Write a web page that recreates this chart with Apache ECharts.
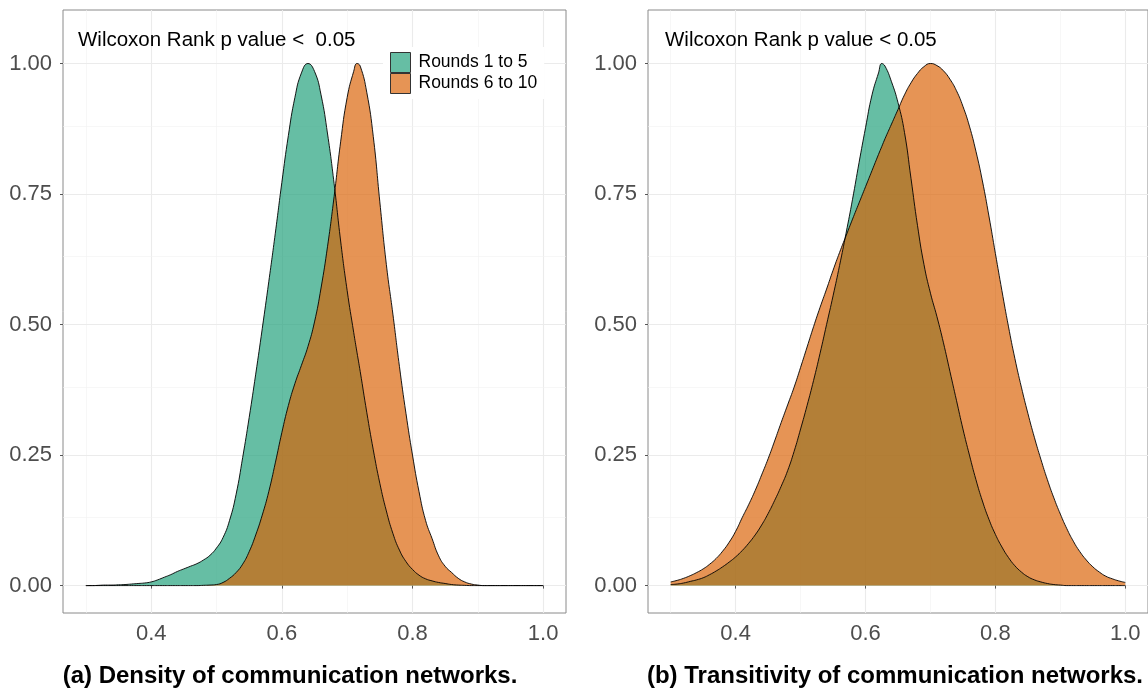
<!DOCTYPE html>
<html><head><meta charset="utf-8">
<script src="https://cdn.jsdelivr.net/npm/echarts@6/dist/echarts.min.js"></script>
<style>html,body{margin:0;padding:0;background:#fff}#c{width:1148px;height:690px}</style>
</head><body><div id="c"></div>
<script>
// ---------- data ----------
const seriesNames = ['Rounds 1 to 5', 'Rounds 6 to 10'];

// (a) Density of communication networks
const xDensity = [0.30,0.31,0.32,0.33,0.34,0.35,0.36,0.37,0.38,0.39,
  0.40,0.41,0.42,0.43,0.44,0.45,0.46,0.47,0.48,0.49,
  0.50,0.51,0.52,0.53,0.54,0.55,0.56,0.57,0.58,0.59,
  0.60,0.61,0.62,0.63,0.64,0.65,0.66,0.67,0.68,0.69,
  0.70,0.71,0.715,0.72,0.73,0.74,0.75,0.76,0.77,0.78,0.79,
  0.80,0.81,0.82,0.83,0.84,0.85,0.86,0.87,0.88,0.89,
  0.90,0.91,0.92,0.93,0.94,0.95,0.96,0.97,0.98,0.99,1.00];
const densityEarly = [0,0,0.0005,0.001,0.001,0.0015,0.002,0.003,0.004,0.005,
  0.007,0.011,0.016,0.021,0.027,0.032,0.037,0.042,0.049,0.058,
  0.072,0.092,0.125,0.175,0.245,0.322,0.405,0.492,0.582,0.675,
  0.772,0.862,0.935,0.982,1.0,0.985,0.94,0.865,0.77,0.66,
  0.565,0.485,0.447,0.41,0.332,0.26,0.196,0.143,0.10,0.068,0.046,
  0.031,0.02,0.013,0.009,0.006,0.004,0.002,0.001,0.0005,0,
  0,0,0,0,0,0,0,0,0,0,0];
const densityLate = [0,0,0,0,0,0,0,0,0,0,
  0,0,0,0,0,0,0,0,0.0005,0.001,
  0.002,0.006,0.014,0.025,0.041,0.065,0.097,0.135,0.18,0.235,
  0.293,0.345,0.387,0.422,0.458,0.505,0.57,0.65,0.745,0.85,
  0.935,0.985,1.0,0.995,0.945,0.86,0.735,0.615,0.52,0.42,0.33,
  0.25,0.18,0.125,0.09,0.057,0.037,0.025,0.014,0.007,0.003,
  0.001,0,0,0,0,0,0,0,0,0,0];

// (b) Transitivity of communication networks
const xTrans = [0.30,0.31,0.32,0.33,0.34,0.35,0.36,0.37,0.38,0.39,
  0.40,0.41,0.42,0.43,0.44,0.45,0.46,0.47,0.48,0.49,
  0.50,0.51,0.52,0.53,0.54,0.55,0.56,0.57,0.58,0.59,
  0.60,0.61,0.62,0.625,0.63,0.64,0.65,0.66,0.67,0.68,0.69,
  0.70,0.71,0.72,0.73,0.74,0.75,0.76,0.77,0.78,0.79,
  0.80,0.81,0.82,0.83,0.84,0.85,0.86,0.87,0.88,0.89,
  0.90,0.91,0.92,0.93,0.94,0.95,0.96,0.97,0.98,0.99,1.00];
const transEarly = [0.002,0.003,0.005,0.008,0.011,0.015,0.021,0.028,0.036,0.045,
  0.055,0.067,0.081,0.097,0.116,0.138,0.163,0.19,0.22,0.257,
  0.30,0.345,0.393,0.445,0.50,0.555,0.613,0.675,0.74,0.81,
  0.877,0.94,0.982,1.0,0.995,0.965,0.925,0.868,0.78,0.69,0.615,
  0.56,0.515,0.465,0.41,0.355,0.30,0.25,0.203,0.162,0.127,
  0.098,0.074,0.054,0.038,0.026,0.017,0.011,0.007,0.004,0.002,
  0.001,0,0,0,0,0,0,0,0,0,0];
const transLate = [0.007,0.010,0.014,0.019,0.025,0.032,0.041,0.052,0.066,0.083,
  0.104,0.13,0.155,0.182,0.212,0.243,0.277,0.312,0.346,0.38,
  0.418,0.457,0.496,0.533,0.568,0.604,0.638,0.67,0.702,0.733,
  0.764,0.795,0.826,0.841,0.856,0.884,0.912,0.94,0.963,0.981,0.994,
  1.0,0.996,0.986,0.970,0.948,0.918,0.88,0.832,0.775,0.708,
  0.636,0.565,0.497,0.435,0.38,0.33,0.284,0.242,0.203,0.168,
  0.137,0.109,0.085,0.065,0.049,0.036,0.026,0.018,0.013,0.009,0.006];

const xTicks = [0.4, 0.6, 0.8, 1.0];
const xMinor = [0.3, 0.5, 0.7, 0.9];
const yTicks = [0, 0.25, 0.5, 0.75, 1.0];
const yMinor = [0.125, 0.375, 0.625, 0.875];
const annotations = ['Wilcoxon Rank p value <  0.05', 'Wilcoxon Rank p value < 0.05'];
const captions = ['(a) Density of communication networks.', '(b) Transitivity of communication networks.'];

// ---------- chart ----------
const FONT = "'Liberation Sans', Arial, sans-serif";
const TEAL = 'rgba(27,158,119,0.67)';
const ORANGE = 'rgba(217,95,2,0.67)';
const pairs = (xs, ys) => xs.map((x, i) => [x, ys[i]]);

const grids = [
  {left: 63, top: 10, width: 503, height: 603},
  {left: 648, top: 10, width: 502, height: 603}
];
const xAxes = grids.map((g, i) => ({
  type: 'value', gridIndex: i, min: 0.265, max: 1.035,
  axisLine: {show: false},
  axisTick: {show: true, length: 3, customValues: xTicks, lineStyle: {color: '#555', width: 1}},
  axisLabel: {customValues: xTicks, formatter: v => v.toFixed(1), fontSize: 22, color: '#4d4d4d', fontFamily: FONT, margin: 10},
  splitLine: {show: false}
}));
const yAxes = grids.map((g, i) => ({
  type: 'value', gridIndex: i, min: -0.0525, max: 1.1025,
  axisLine: {show: false},
  axisTick: {show: true, length: 3, customValues: yTicks, lineStyle: {color: '#555', width: 1}},
  axisLabel: {customValues: yTicks, formatter: v => v.toFixed(2), fontSize: 22, color: '#4d4d4d', fontFamily: FONT, margin: 11},
  splitLine: {show: false}
}));

function gridSeries(i, xs, ys) {
  const major = {color: '#ebebeb', width: 1.1, type: 'solid'};
  const minor = {color: '#f2f2f2', width: 0.6, type: 'solid'};
  const d = [];
  xTicks.forEach(v => d.push({xAxis: v, lineStyle: major}));
  xMinor.forEach(v => d.push({xAxis: v, lineStyle: minor}));
  yTicks.forEach(v => d.push({yAxis: v, lineStyle: major}));
  yMinor.forEach(v => d.push({yAxis: v, lineStyle: minor}));
  return {
    type: 'line', xAxisIndex: i, yAxisIndex: i, z: 0, silent: true,
    data: pairs(xs, ys), showSymbol: false, lineStyle: {opacity: 0},
    markLine: {silent: true, z: 0, zlevel: 0, symbol: ['none', 'none'], label: {show: false}, data: d, animation: false}
  };
}
function densSeries(i, name, xs, ys, fill) {
  return {
    name, type: 'line', xAxisIndex: i, yAxisIndex: i, z: 3,
    data: pairs(xs, ys), smooth: 0.5, showSymbol: false, symbol: 'none',
    itemStyle: {color: fill},
    lineStyle: {color: '#000', width: 0.9},
    areaStyle: {color: fill, opacity: 1, origin: 0}
  };
}

const option = {
  animation: false,
  backgroundColor: '#fff',
  grid: grids.map(g => Object.assign({show: true, borderColor: '#8a8a8a', borderWidth: 1, backgroundColor: 'transparent', containLabel: false}, g)),
  xAxis: xAxes,
  yAxis: yAxes,
  legend: {
    orient: 'vertical', left: 383, top: 47, itemWidth: 20, itemHeight: 20, itemGap: 0, z: 20,
    padding: [5, 7, 5, 7], backgroundColor: '#fff', icon: 'rect',
    textStyle: {fontSize: 17.5, color: '#000', fontFamily: FONT, padding: [0, 0, 0, 3]},
    data: [
      {name: seriesNames[0], itemStyle: {color: TEAL, borderColor: '#333', borderWidth: 1}},
      {name: seriesNames[1], itemStyle: {color: ORANGE, borderColor: '#333', borderWidth: 1}}
    ],
    selectedMode: false
  },
  series: [
    gridSeries(0, xDensity, densityEarly),
    densSeries(0, seriesNames[0], xDensity, densityEarly, TEAL),
    densSeries(0, seriesNames[1], xDensity, densityLate, ORANGE),
    gridSeries(1, xTrans, transEarly),
    densSeries(1, seriesNames[0], xTrans, transEarly, TEAL),
    densSeries(1, seriesNames[1], xTrans, transLate, ORANGE)
  ],
  graphic: [
    {type: 'text', left: 78, top: 30, z: 10, style: {text: annotations[0], fontSize: 20.5, fontFamily: FONT, fill: '#000'}},
    {type: 'text', left: 665, top: 30, z: 10, style: {text: annotations[1], fontSize: 20.5, fontFamily: FONT, fill: '#000'}},
    {type: 'text', x: 290, y: 676, z: 10, style: {text: captions[0], fontSize: 24, fontWeight: 'bold', fontFamily: FONT, fill: '#000', align: 'center', verticalAlign: 'middle'}},
    {type: 'text', x: 895, y: 676, z: 10, style: {text: captions[1], fontSize: 24, fontWeight: 'bold', fontFamily: FONT, fill: '#000', align: 'center', verticalAlign: 'middle'}}
  ]
};
const chart = echarts.init(document.getElementById('c'), null, {renderer: 'canvas'});
chart.setOption(option);
</script>
</body></html>
